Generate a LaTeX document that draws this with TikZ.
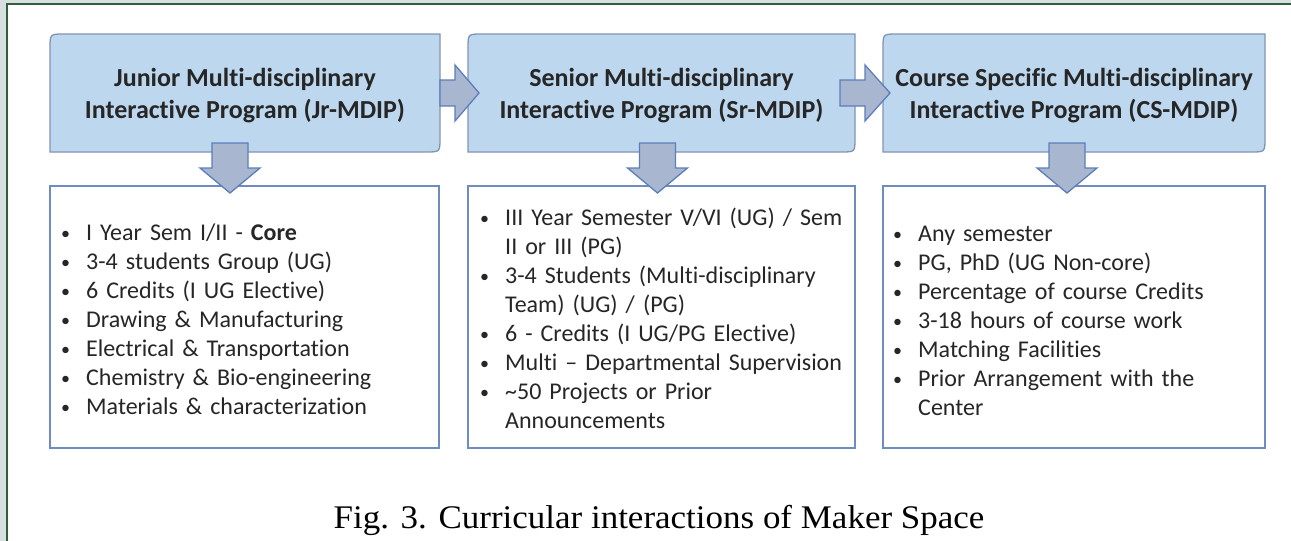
\documentclass[tikz,border=0pt]{standalone}
\usepackage{fontspec}
\setmainfont{Carlito}[Ligatures=NoCommon]
\newfontfamily\capfont{Liberation Serif}
\usetikzlibrary{calc}
\definecolor{topfill}{HTML}{BDD7EE}
\definecolor{topdraw}{HTML}{8094B4}
\definecolor{arrfill}{HTML}{A9B6D0}
\definecolor{arrdraw}{HTML}{5C7EBA}
\definecolor{botdraw}{HTML}{6F8CC0}
\definecolor{framecol}{HTML}{2F5F3C}
\definecolor{outbg}{HTML}{D7DFDF}
\definecolor{txt}{HTML}{262626}
\newcommand\bitem[1]{\par\hangindent=25pt\hangafter=1\noindent\makebox[25pt][l]{\raisebox{1pt}{\scalebox{0.75}{\textbullet}}}#1}
\tikzset{
  topbox/.style={minimum width=390pt, minimum height=118pt, inner sep=0pt, outer sep=0pt,
    align=center, text=txt, font=\bfseries\fontsize{26}{32}\selectfont},
  topshape/.style={fill=topfill, draw=topdraw, line width=1.3pt},
  botbox/.style={minimum width=389pt, minimum height=262pt, inner sep=0pt, outer sep=0pt,
    draw=botdraw, line width=1.6pt, fill=white},
  listtext/.style={anchor=base west, inner sep=0pt, text width=370pt, align=left, text=txt,
    font=\fontsize{24}{29}\selectfont},
  blockarrow/.style={fill=arrfill, draw=arrdraw, line width=1.3pt, line join=miter},
}
\begin{document}
\begin{tikzpicture}[x=1pt,y=-1pt]
\useasboundingbox (0,0) rectangle (1291,541);
\fill[outbg] (0,0) rectangle (1291,541);
\fill[white] (7,4) rectangle (1291,541);
\draw[framecol, line width=2pt] (7,541) -- (7,4) -- (1291,4);

% top boxes
\node[topbox] (t1) at (245,93) {};
\node[topbox, minimum width=387pt] (t2) at (661.5,93) {};
\node[topbox, minimum width=382pt] (t3) at (1074,93) {};
\foreach \n in {t1,t2,t3}{
  \draw[topshape] (\n.south west) -- ($(\n.north west)+(0,14)$) .. controls (\n.north west) .. ($(\n.north west)+(14,0)$)
    -- (\n.north east) -- ($(\n.south east)+(0,-14)$) .. controls (\n.south east) .. ($(\n.south east)+(-14,0)$) -- cycle;
}
\node[topbox] (t1txt) at ($(t1)+(0,3)$) {Junior Multi-disciplinary\\Interactive Program (Jr-MDIP)};
\node[topbox, minimum width=387pt] (t2txt) at ($(t2)+(0,3)$) {Senior Multi-disciplinary\\Interactive Program (Sr-MDIP)};
\node[topbox, minimum width=382pt] (t3txt) at ($(t3)+(0,3)$) {Course Specific Multi-disciplinary\\Interactive Program (CS-MDIP)};

% bottom boxes
\node[botbox] (b1) at (244.5,317) {};
\node[botbox, minimum width=387pt] (b2) at (661.5,317) {};
\node[botbox, minimum width=382pt] (b3) at (1074,317) {};

\node[listtext] (l1) at (61,211) {%
\bitem{I Year Sem I/II - \textbf{Core}}
\bitem{3-4 students Group (UG)}
\bitem{6 Credits (I UG Elective)}
\bitem{Drawing \& Manufacturing}
\bitem{Electrical \& Transportation}
\bitem{Chemistry \& Bio-engineering}
\bitem{Materials \& characterization}\par};
\node[listtext] (l2) at (480,196) {%
\bitem{III Year Semester V/VI (UG) / Sem\newline II or III (PG)}
\bitem{3-4 Students (Multi-disciplinary\newline Team) (UG) / (PG)}
\bitem{6 - Credits (I UG/PG Elective)}
\bitem{Multi -- Departmental Supervision}
\bitem{\textasciitilde50 Projects or Prior\newline Announcements}\par};
\node[listtext] (l3) at (893,212) {%
\bitem{Any semester}
\bitem{PG, PhD (UG Non-core)}
\bitem{Percentage of course Credits}
\bitem{3-18 hours of course work}
\bitem{Matching Facilities}
\bitem{Prior Arrangement with the\newline Center}\par};

% right arrows
\draw[blockarrow] let \p1=(t1.east), \p2=(t2.west) in
  (\x1,\y1+13pt) -- (\x1+15pt,\y1+13pt) -- (\x1+15pt,\y1+28pt) -- (\x2+11pt,\y1)
  -- (\x1+15pt,\y1-28pt) -- (\x1+15pt,\y1-13pt) -- (\x1,\y1-13pt) -- cycle;
\draw[blockarrow] let \p1=(t2.east), \p2=(t3.west) in
  (\x1-15pt,\y1+13pt) -- (\x1+10pt,\y1+13pt) -- (\x1+10pt,\y1+28pt) -- (\x2+7pt,\y1)
  -- (\x1+10pt,\y1-28pt) -- (\x1+10pt,\y1-13pt) -- (\x1-15pt,\y1-13pt) -- cycle;

% down arrows
\draw[blockarrow] let \p1=($(t1.south)+(-15,0)$), \p2=(b1.north) in
  (\x1-18pt,\y1+9pt) -- (\x1+18pt,\y1+9pt) -- (\x1+18pt,\y2+18pt) -- (\x1+30pt,\y2+18pt)
  -- (\x1,\y2-7pt) -- (\x1-30pt,\y2+18pt) -- (\x1-18pt,\y2+18pt) -- cycle;
\draw[blockarrow] let \p1=($(t2.south)+(-4,0)$), \p2=(b2.north) in
  (\x1-18pt,\y1+9pt) -- (\x1+18pt,\y1+9pt) -- (\x1+18pt,\y2+18pt) -- (\x1+30pt,\y2+18pt)
  -- (\x1,\y2-7pt) -- (\x1-30pt,\y2+18pt) -- (\x1-18pt,\y2+18pt) -- cycle;
\draw[blockarrow] let \p1=($(t3.south)+(-7,0)$), \p2=(b3.north) in
  (\x1-18pt,\y1+9pt) -- (\x1+18pt,\y1+9pt) -- (\x1+18pt,\y2+18pt) -- (\x1+30pt,\y2+18pt)
  -- (\x1,\y2-7pt) -- (\x1-30pt,\y2+18pt) -- (\x1-18pt,\y2+18pt) -- cycle;

% caption
\node[inner sep=0pt, anchor=base, text=black, font=\capfont\fontsize{33}{36}\selectfont] (cap) at (659,528)
  {\scalebox{1.06}[1]{Fig. 3. Curricular interactions of Maker Space}};
\end{tikzpicture}
\end{document}
